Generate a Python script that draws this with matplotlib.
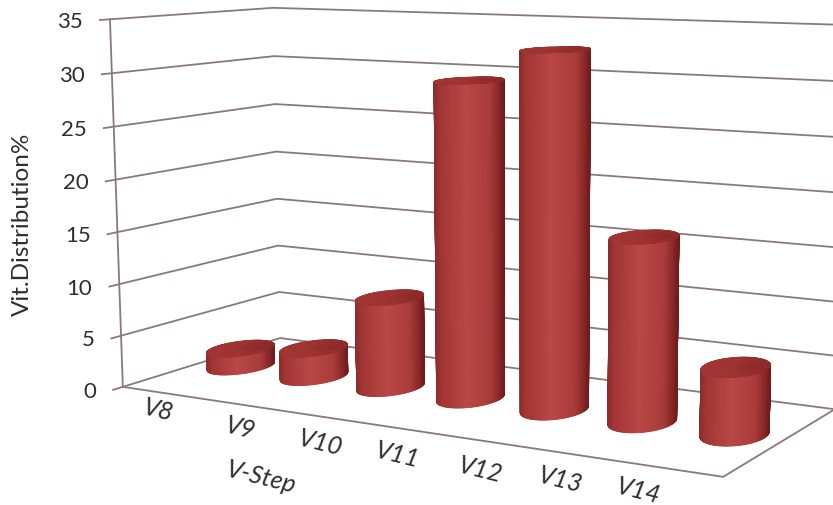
import numpy as np
import matplotlib
matplotlib.use("Agg")
import matplotlib.pyplot as plt
from matplotlib.colors import LinearSegmentedColormap

plt.rcParams['font.family'] = ['Lato', 'DejaVu Sans']

steps = ["V8", "V9", "V10", "V11", "V12", "V13", "V14"]
vit_distribution = [1.8, 2.8, 8.7, 29.7, 32.8, 16.7, 6]
y_ticks = [0, 5, 10, 15, 20, 25, 30, 35]

GRID = '#8a7a77'
TEXT = '#2e2e2e'
radius_x, radius_y = 0.305, 0.165

# camera for the chart box: box corner (x, depth, z) -> pixel
box_x, box_depth, box_z = len(steps), 1.0, max(y_ticks)
corners = [
    ((0, 0, 0), (123, 388)),
    ((box_x, 0, 0), (723, 478)),
    ((0, box_depth, 0), (280, 339)),
    ((box_x, box_depth, 0), (835, 410)),
    ((0, 0, box_z), (110, 20)),
    ((0, box_depth, box_z), (273, 9)),
    ((box_x, box_depth, box_z), (845, 26)),
]
rows, rhs = [], []
for (x, y, z), (u, v) in corners:
    rows.append([x, y, z, 1, 0, 0, 0, 0, -u * x, -u * y, -u * z])
    rows.append([0, 0, 0, 0, x, y, z, 1, -v * x, -v * y, -v * z])
    rhs += [u, v]
cam = np.linalg.lstsq(np.array(rows, float), np.array(rhs, float), rcond=None)[0]
cam = np.append(cam, 1.0).reshape(3, 4)


def project(x, y, z):
    x, y, z = np.broadcast_arrays(np.asarray(x, float), np.asarray(y, float), np.asarray(z, float))
    pts = np.stack([x, y, z, np.ones_like(x)], axis=-1) @ cam.T
    return pts[..., 0] / pts[..., 2], pts[..., 1] / pts[..., 2]


side_cmap = LinearSegmentedColormap.from_list('side', [
    (0.0, '#8e2c2c'), (0.08, '#a23635'), (0.45, '#b94846'),
    (0.80, '#a93c3a'), (0.95, '#842626'), (1.0, '#701b1b')])
cap_cmap = LinearSegmentedColormap.from_list('cap', [
    (0.0, '#a33736'), (0.6, '#9c3231'), (1.0, '#8a2828')])

fig = plt.figure(figsize=(8.33, 5.06), dpi=100)
ax = fig.add_axes([0, 0, 1, 1])
ax.set_xlim(0, 833)
ax.set_ylim(506, 0)
ax.axis('off')

# walls
for t in y_ticks:
    u, v = project([0, 0, box_x], [-0.055, box_depth, box_depth], [t, t, t])
    ax.plot(u, v, color=GRID, lw=1.3, zorder=1)
    ax.text(u[0] - 17, v[0] + 1, str(t), ha='right', va='center', fontsize=16, color=TEXT)

# floor and the value axis
u, v = project([0, box_x, box_x], [0, 0, box_depth], [0, 0, 0])
ax.plot(u, v, color=GRID, lw=1.3, zorder=1)
u, v = project([0, 0], [0, 0], [0, box_z])
ax.plot(u, v, color=GRID, lw=1.3, zorder=1)

# cylinders
theta = np.linspace(0, 2 * np.pi, 181)
for i, val in enumerate(vit_distribution):
    cx = i + 0.5
    ring_x = cx + radius_x * np.cos(theta)
    ring_y = 0.5 + radius_y * np.sin(theta)
    base_u, base_v = project(ring_x, ring_y, 0)
    lo, hi = np.argmin(base_u[:-1]), np.argmax(base_u[:-1])
    # front half of the ring, left silhouette to right silhouette
    direction = 1
    span = (hi - lo) % 180
    if base_v[(lo + np.arange(span + 1)) % 180].mean() < base_v[:-1].mean():
        direction = -1
        span = (lo - hi) % 180
    # run a little past both ends, the outline shifts slightly with height
    front = (lo + direction * np.arange(-8, span + 9)) % 180
    zs = np.array([[0.0], [val]])
    mesh_u, mesh_v = project(ring_x[front][None, :], ring_y[front][None, :], zs)
    shade = (mesh_u - mesh_u.min(axis=1, keepdims=True)) / np.ptp(mesh_u, axis=1, keepdims=True)
    ax.pcolormesh(mesh_u, mesh_v, shade, shading='gouraud', cmap=side_cmap, vmin=0, vmax=1, zorder=3 + i)
    # cap
    top_u, top_v = project(ring_x, ring_y, val)
    mid_u, mid_v = project(cx, 0.5, val)
    fan_u = np.vstack([np.full_like(top_u, mid_u), top_u])
    fan_v = np.vstack([np.full_like(top_v, mid_v), top_v])
    fan_c = (fan_u - top_u.min()) / np.ptp(top_u)
    ax.pcolormesh(fan_u, fan_v, fan_c, shading='gouraud', cmap=cap_cmap, vmin=0, vmax=1, zorder=3 + i)

# category labels follow the floor edge
label_px = [(158, 410), (240, 428), (320, 443), (397, 455), (480, 470), (560, 480), (638, 491)]
for name, (lx, ly) in zip(steps, label_px):
    ax.text(lx, ly, name, ha='center', va='center', fontsize=18, style='italic',
            rotation=-14, rotation_mode='anchor', color=TEXT)
ax.text(261, 477, "V-Step", ha='center', va='center', fontsize=18, style='italic',
        rotation=-14, rotation_mode='anchor', color=TEXT)
ax.text(22, 224, "Vit.Distribution%", ha='center', va='center', fontsize=17.5, rotation=90, color=TEXT)

fig.savefig("out.png", dpi=100)
